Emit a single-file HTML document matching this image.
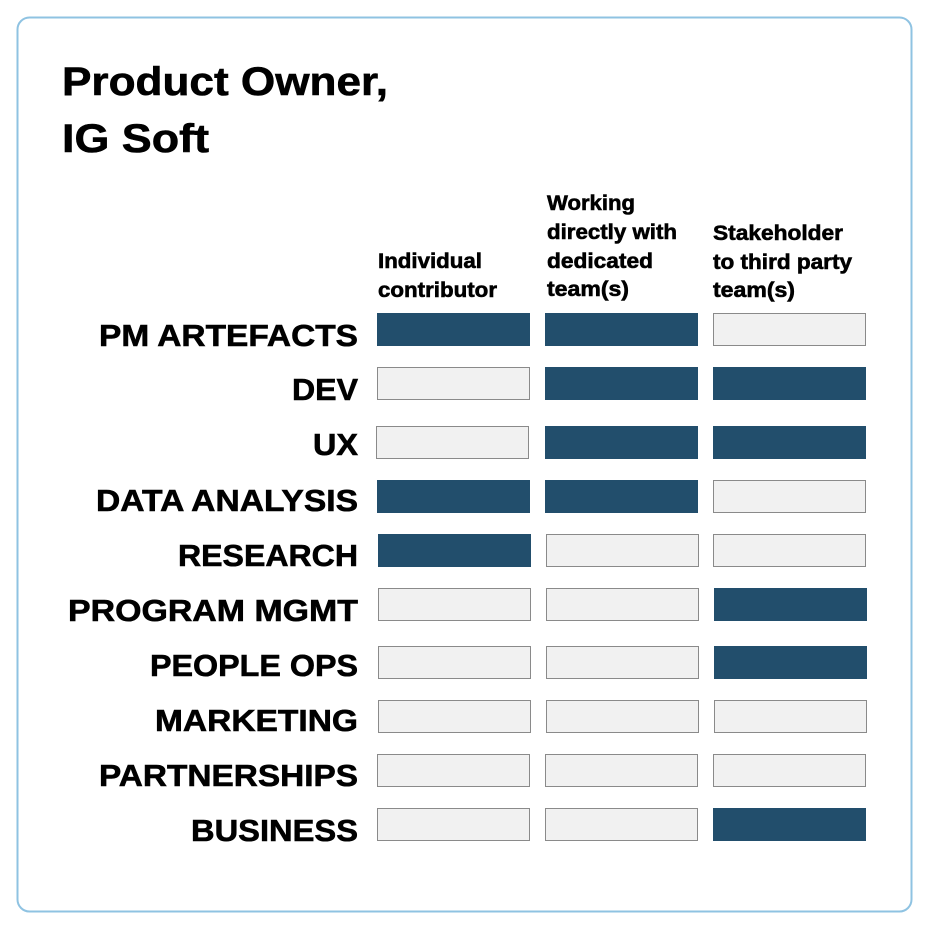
<!DOCTYPE html>
<html><head><meta charset="utf-8"><style>
html,body{margin:0;padding:0;background:#fff;width:929px;height:929px;overflow:hidden}
svg text{font-family:"Liberation Sans",Arial,sans-serif;font-weight:bold;fill:#000;stroke:#000;stroke-width:0.6}
</style></head><body>
<svg width="929" height="929" viewBox="0 0 929 929" xmlns="http://www.w3.org/2000/svg">
<rect x="17.5" y="17.5" width="894" height="894" rx="12" fill="#fff" stroke="#8fc3e2" stroke-width="2"/>
<text x="62" y="95" font-size="40" textLength="326" lengthAdjust="spacingAndGlyphs">Product Owner,</text>
<text x="62" y="152" font-size="40" textLength="147" lengthAdjust="spacingAndGlyphs">IG Soft</text>

<g font-size="21" style="stroke-width:0.4">
<text x="378" y="268" textLength="104" lengthAdjust="spacingAndGlyphs">Individual</text>
<text x="378" y="297" textLength="119" lengthAdjust="spacingAndGlyphs">contributor</text>
<text x="547" y="210" textLength="88" lengthAdjust="spacingAndGlyphs">Working</text>
<text x="547" y="239" textLength="130" lengthAdjust="spacingAndGlyphs">directly with</text>
<text x="547" y="268" textLength="106" lengthAdjust="spacingAndGlyphs">dedicated</text>
<text x="547" y="296" textLength="82" lengthAdjust="spacingAndGlyphs">team(s)</text>
<text x="713" y="240" textLength="130" lengthAdjust="spacingAndGlyphs">Stakeholder</text>
<text x="713" y="269" textLength="139" lengthAdjust="spacingAndGlyphs">to third party</text>
<text x="713" y="297" textLength="82" lengthAdjust="spacingAndGlyphs">team(s)</text>
</g>

<g font-size="31" text-anchor="end">
<text x="358" y="346" textLength="259" lengthAdjust="spacingAndGlyphs">PM ARTEFACTS</text>
<text x="358" y="400" textLength="66" lengthAdjust="spacingAndGlyphs">DEV</text>
<text x="358" y="455" textLength="45" lengthAdjust="spacingAndGlyphs">UX</text>
<text x="358" y="511" textLength="262" lengthAdjust="spacingAndGlyphs">DATA ANALYSIS</text>
<text x="358" y="566" textLength="180" lengthAdjust="spacingAndGlyphs">RESEARCH</text>
<text x="358" y="621" textLength="290" lengthAdjust="spacingAndGlyphs">PROGRAM MGMT</text>
<text x="358" y="676" textLength="208" lengthAdjust="spacingAndGlyphs">PEOPLE OPS</text>
<text x="358" y="731" textLength="203" lengthAdjust="spacingAndGlyphs">MARKETING</text>
<text x="358" y="786" textLength="259" lengthAdjust="spacingAndGlyphs">PARTNERSHIPS</text>
<text x="358" y="841" textLength="167" lengthAdjust="spacingAndGlyphs">BUSINESS</text>
</g>

<g>
<g fill="#224e6c">
<rect x="377" y="313" width="153" height="33"/>
<rect x="545" y="313" width="153" height="33"/>
<rect x="545" y="367" width="153" height="33"/>
<rect x="713" y="367" width="153" height="33"/>
<rect x="545" y="426" width="153" height="33"/>
<rect x="713" y="426" width="153" height="33"/>
<rect x="377" y="480" width="153" height="33"/>
<rect x="545" y="480" width="153" height="33"/>
<rect x="378" y="534" width="153" height="33"/>
<rect x="714" y="588" width="153" height="33"/>
<rect x="714" y="646" width="153" height="33"/>
<rect x="713" y="808" width="153" height="33"/>
</g>
<g fill="#f1f1f1" stroke="#8a8a8a" stroke-width="1">
<rect x="713.5" y="313.5" width="152" height="32"/>
<rect x="377.5" y="367.5" width="152" height="32"/>
<rect x="376.5" y="426.5" width="152" height="32"/>
<rect x="713.5" y="480.5" width="152" height="32"/>
<rect x="546.5" y="534.5" width="152" height="32"/>
<rect x="713.5" y="534.5" width="152" height="32"/>
<rect x="378.5" y="588.5" width="152" height="32"/>
<rect x="546.5" y="588.5" width="152" height="32"/>
<rect x="378.5" y="646.5" width="152" height="32"/>
<rect x="546.5" y="646.5" width="152" height="32"/>
<rect x="378.5" y="700.5" width="152" height="32"/>
<rect x="546.5" y="700.5" width="152" height="32"/>
<rect x="714.5" y="700.5" width="152" height="32"/>
<rect x="377.5" y="754.5" width="152" height="32"/>
<rect x="545.5" y="754.5" width="152" height="32"/>
<rect x="713.5" y="754.5" width="152" height="32"/>
<rect x="377.5" y="808.5" width="152" height="32"/>
<rect x="545.5" y="808.5" width="152" height="32"/>
</g>
</g>
</svg>
</body></html>
